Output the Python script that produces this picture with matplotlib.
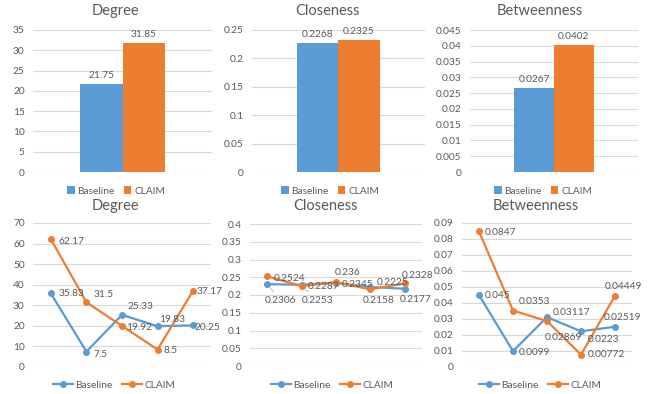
import matplotlib
matplotlib.use("Agg")
import matplotlib.pyplot as plt
from matplotlib.lines import Line2D
from matplotlib.patches import Patch

plt.rcParams['font.family'] = ['Lato', 'DejaVu Sans']

# ---------------- data ----------------
series_names = ["Baseline", "CLAIM"]

bar_degree = [21.75, 31.85]
bar_closeness = [0.2268, 0.2325]
bar_betweenness = [0.0267, 0.0402]

line_categories = [1, 2, 3, 4, 5]
deg_base = [35.83, 7.5, 25.33, 19.83, 20.25]
deg_claim = [62.17, 31.5, 19.92, 8.5, 37.17]
clo_base = [0.2306, 0.2287, 0.2345, 0.2225, 0.2177]
clo_claim = [0.2524, 0.2253, 0.236, 0.2158, 0.2328]
bet_base = [0.045, 0.0099, 0.03117, 0.0223, 0.02519]
bet_claim = [0.0847, 0.0353, 0.02869, 0.00772, 0.04449]

deg_ticks = [0, 10, 20, 30, 40, 50, 60, 70]
clo_ticks = [0, 0.05, 0.1, 0.15, 0.2, 0.25, 0.3, 0.35, 0.4]
bet_ticks = [0, 0.01, 0.02, 0.03, 0.04, 0.05, 0.06, 0.07, 0.08, 0.09]
bdeg_ticks = [0, 5, 10, 15, 20, 25, 30, 35]
bclo_ticks = [0, 0.05, 0.1, 0.15, 0.2, 0.25]
bbet_ticks = [0, 0.005, 0.01, 0.015, 0.02, 0.025, 0.03, 0.035, 0.04, 0.045]

# ---------------- style ----------------
BLUE = "#5B9BD5"
ORANGE = "#ED7D31"
GRID = "#D9D9D9"
TXT = "#595959"
colors = [BLUE, ORANGE]
W, H = 650, 394
FS = 7.3

fig = plt.figure(figsize=(6.5, 3.94), dpi=100)


def fr(x0, y0, x1, y1):
    return [x0 / W, 1 - y1 / H, (x1 - x0) / W, (y1 - y0) / H]


def style_axes(ax, ticks, fmt):
    for s in ax.spines.values():
        s.set_visible(False)
    ax.set_ylim(ticks[0], ticks[-1])
    ax.set_yticks(ticks)
    ax.set_yticklabels([fmt(t) for t in ticks], fontsize=FS, color=TXT)
    ax.tick_params(axis='y', length=0, pad=6)
    ax.set_xticks([])
    ax.grid(axis='y', color=GRID, lw=0.8)
    ax.set_axisbelow(True)


def gfmt(t):
    s = ("%.4f" % t).rstrip('0').rstrip('.')
    return s if s else "0"


def title(x, y, text):
    fig.text(x / W, 1 - y / H, text, ha='center', va='center', fontsize=10.5, color=TXT)


# ---------------- top bar charts ----------------
bar_specs = [
    (fr(33, 30, 212, 172), bar_degree, bdeg_ticks, "Degree", 115, 116, lambda v: "%.2f" % v),
    (fr(252, 30, 425, 172), bar_closeness, bclo_ticks, "Closeness", 327, 330, lambda v: "%.4f" % v),
    (fr(470, 30, 638, 172), bar_betweenness, bbet_ticks, "Betweenness", 540, 543, lambda v: "%.4f" % v),
]
for rect, vals, ticks, name, tx, lx, lfmt in bar_specs:
    ax = fig.add_axes(rect)
    style_axes(ax, ticks, gfmt)
    ax.set_xlim(-0.5, 0.5)
    bw = 0.237
    for i, v in enumerate(vals):
        xc = (i - 0.5) * bw
        ax.bar(xc, v, width=bw, color=colors[i], zorder=2)
        ax.annotate(lfmt(v), (xc, v), xytext=(0, 4), textcoords='offset pixels',
                    ha='center', va='bottom', fontsize=FS, color=TXT)
    title(tx, 11, name)
    handles = [Patch(facecolor=c, label=n) for c, n in zip(colors, series_names)]
    ax.legend(handles=handles, loc='center', bbox_to_anchor=(lx / W, 1 - 191 / H),
              bbox_transform=fig.transFigure, ncol=2, frameon=False, fontsize=FS,
              handlelength=0.75, handleheight=0.75, handletextpad=0.25, columnspacing=0.9,
              labelcolor=TXT)

# ---------------- bottom line charts ----------------
# label offsets (pixels) and leader-line flags for each point
deg_off_b = [(8, 0, 'left', False), (7, -3, 'left', False), (6, 8, 'left', True), (15, 7, 'center', False), (1, -2, 'left', False)]
deg_off_c = [(8, -2, 'left', False), (7, 8, 'left', True), (4, -1, 'left', False), (6, -1, 'left', False), (3, -1, 'left', False)]
clo_off_b = [(13, -16, 'center', True), (6, -2, 'left', False), (6, -2, 'left', False), (6, 5, 'left', True), (11, -11, 'center', False)]
clo_off_c = [(7, -2, 'left', False), (16, -14, 'center', True), (12, 10, 'center', False), (8, -11, 'center', False), (13, 8, 'center', False)]
bet_off_b = [(6, 0, 'left', False), (6, -1, 'left', False), (6, 5, 'left', False), (7, -8, 'left', True), (7, 9, 'center', False)]
bet_off_c = [(6, -1, 'left', False), (6, 9, 'left', True), (-2, -16, 'left', True), (7, 0, 'left', False), (8, 9, 'center', False)]

line_specs = [
    (fr(33, 223, 211, 367), deg_base, deg_claim, deg_ticks, "Degree", 115, 114,
     lambda v: gfmt(v), deg_off_b, deg_off_c),
    (fr(250, 224, 422, 366), clo_base, clo_claim, clo_ticks, "Closeness", 325, 332,
     lambda v: gfmt(v), clo_off_b, clo_off_c),
    (fr(462, 223, 632, 367), bet_base, bet_claim, bet_ticks, "Betweenness", 536, 540,
     lambda v: ("%.5f" % v).rstrip('0'), bet_off_b, bet_off_c),
]
for rect, base, claim, ticks, name, tx, lx, lfmt, offb, offc in line_specs:
    ax = fig.add_axes(rect)
    style_axes(ax, ticks, gfmt)
    xs = list(range(len(line_categories)))
    ax.set_xlim(-0.5, len(xs) - 0.5)
    for vals, c, offs in ((base, BLUE, offb), (claim, ORANGE, offc)):
        ax.plot(xs, vals, color=c, lw=1.6, marker='o', markersize=4, zorder=3)
        for x, v, (dx, dy, ha, lead) in zip(xs, vals, offs):
            ap = None
            if lead:
                ap = dict(arrowstyle='-', color='#A6A6A6', lw=0.5, shrinkA=1, shrinkB=3)
            ax.annotate(lfmt(v), (x, v), xytext=(dx, dy), textcoords='offset pixels',
                        ha=ha, va='center', fontsize=FS, color=TXT, arrowprops=ap,
                        zorder=4)
    title(tx, 206, name)
    handles = [Line2D([], [], color=c, lw=1.6, marker='o', markersize=4, label=n)
               for c, n in zip(colors, series_names)]
    ax.legend(handles=handles, loc='center', bbox_to_anchor=(lx / W, 1 - 385 / H),
              bbox_transform=fig.transFigure, ncol=2, frameon=False, fontsize=FS,
              handlelength=2.0, handletextpad=0.2, columnspacing=0.9, labelcolor=TXT)

fig.savefig("out.png", dpi=100)
